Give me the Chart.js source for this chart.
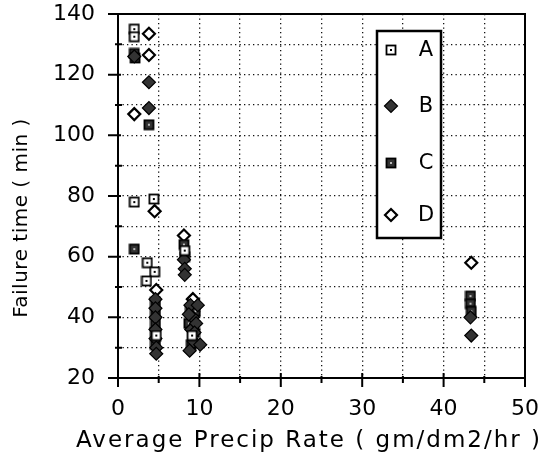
<!DOCTYPE html>
<html>
<head>
<meta charset="utf-8">
<script src="https://cdn.jsdelivr.net/npm/chart.js@4/dist/chart.umd.min.js"></script>
<style>
  html,body{margin:0;padding:0;background:#fff;}
  #wrap{width:545px;height:464px;}
</style>
</head>
<body>
<div id="wrap"><canvas id="myChart" width="545" height="464"></canvas></div>
<script>
// values
const seriesNames=["A","B","C","D"];
const xTitle="Average Precip Rate ( gm/dm2/hr )";
const yTitle="Failure time ( min )";

const aX=[2.0,2.0,2.0,4.4,3.6,4.5,3.5,4.7,8.2,9.1];
const aY=[135,132.5,78,79,58,55,52,34,62,34];

const bX=[2.0,3.8,3.8,4.6,4.6,4.6,4.6,4.6,4.7,4.7,8.1,8.2,8.2,8.9,9.2,9.0,9.3,8.8,9.6,9.8,10.1,8.7,9.4,43.3,43.4];
const bY=[126,117.5,109,46,43,40,36,33,30,28,59,56,54,44,40,36,32,29,38,44,31,41,35,40,34];

const cX=[2.0,2.1,3.8,2.0,4.6,4.6,4.6,4.6,4.6,8.1,8.2,8.9,9.1,9.4,9.0,8.7,9.5,43.3,43.3,43.4];
const cY=[127,125.5,103.5,62.5,45,41,38,35,31,64,60,42,39,35,31,38,42,47,44.5,42];

const dX=[3.8,3.8,2.0,4.5,4.7,8.1,9.2,43.4];
const dY=[133.5,126.5,107,75,49,67,46,58];

const xTicks=[0,10,20,30,40,50];
const yTicks=[20,40,60,80,100,120,140];

const toPoints=(xs,ys)=>xs.map((x,i)=>({x:x,y:ys[i]}));

// square marker with a dot in the middle
const makeSquare=(fill,dot)=>{
    const c=document.createElement("canvas");
    c.width=12;c.height=12;
    const g=c.getContext("2d");
    g.fillStyle=fill;
    g.fillRect(1,1,10,10);
    g.strokeStyle="#000";
    g.lineWidth=1.8;
    g.strokeRect(1.5,1.5,9,9);
    g.fillStyle=dot;
    g.fillRect(5,5,2,2);
    return c;
};

const datasets=[
    {label:seriesNames[0],data:toPoints(aX,aY),pointStyle:makeSquare("#fff","#000"),pointRadius:6},
    {label:seriesNames[1],data:toPoints(bX,bY),pointStyle:"rectRot",pointRadius:6.5,backgroundColor:"#333",borderColor:"#000",borderWidth:1.2},
    {label:seriesNames[2],data:toPoints(cX,cY),pointStyle:makeSquare("#333","#bbb"),pointRadius:6},
    {label:seriesNames[3],data:toPoints(dX,dY),pointStyle:"rectRot",pointRadius:6,backgroundColor:"#fff",borderColor:"#000",borderWidth:2.2}
];

// box, tick marks, axis titles and the legend box
const framePlugin={
    id:"frame",
    afterDraw(chart){
        const ctx=chart.ctx;
        const a=chart.chartArea;
        const xs=chart.scales.x, ys=chart.scales.y;
        ctx.save();
        ctx.strokeStyle="#000";
        ctx.lineWidth=2;
        ctx.strokeRect(a.left,a.top,a.right-a.left,a.bottom-a.top);
        ctx.beginPath();
        for(let v=0;v<=50;v+=5){
            const px=xs.getPixelForValue(v);
            if(v%10===0){ctx.moveTo(px,a.bottom-5);ctx.lineTo(px,a.bottom+9);}
            else{ctx.moveTo(px,a.bottom-2);ctx.lineTo(px,a.bottom+5);}
        }
        for(let v=20;v<=140;v+=10){
            const py=ys.getPixelForValue(v);
            if(v%20===0){ctx.moveTo(a.left-10,py);ctx.lineTo(a.left+3,py);}
            else{ctx.moveTo(a.left-3,py);ctx.lineTo(a.left+4,py);}
        }
        ctx.stroke();

        // axis titles
        ctx.fillStyle="#000";
        ctx.textAlign="center";
        ctx.textBaseline="middle";
        ctx.font="23px 'DejaVu Sans'";
        ctx.letterSpacing="2px";
        ctx.fillText(xTitle,309,441);
        ctx.save();
        ctx.translate(22,218);
        ctx.rotate(-Math.PI/2);
        ctx.font="20px 'DejaVu Sans'";
        ctx.letterSpacing="0.5px";
        ctx.fillText(yTitle,0,0);
        ctx.restore();
        ctx.letterSpacing="0px";

        // legend
        const bx=377,by=31,bw=64,bh=207;
        ctx.fillStyle="#fff";
        ctx.fillRect(bx,by,bw,bh);
        ctx.lineWidth=2.5;
        ctx.strokeRect(bx,by,bw,bh);
        const rows=[50,106,163,215];
        ctx.font="21px 'DejaVu Sans'";
        chart.data.datasets.forEach((ds,i)=>{
            ctx.fillStyle=ds.backgroundColor||"#fff";
            ctx.strokeStyle=ds.borderColor||"#000";
            ctx.lineWidth=ds.borderWidth||1;
            Chart.helpers.drawPoint(ctx,{pointStyle:ds.pointStyle,radius:ds.pointRadius,borderWidth:ds.borderWidth||1,rotation:0},391,rows[i]);
            ctx.fillStyle="#000";
            ctx.fillText(ds.label,426,rows[i]+1);
        });
        ctx.restore();
    }
};

const gridStyle={color:"#111",lineWidth:1.3,drawTicks:false};

const ctx=document.getElementById("myChart").getContext("2d");
const myChart=new Chart(ctx,{
    type:"scatter",
    data:{datasets:datasets},
    options:{
        responsive:false,
        animation:false,
        events:[],
        layout:{padding:{left:11,right:20,top:14,bottom:6}},
        plugins:{legend:{display:false},tooltip:{enabled:false}},
        scales:{
            x:{
                type:"linear",min:0,max:50,
                grid:gridStyle,
                border:{display:false,dash:[1.3,3.2]},
                ticks:{stepSize:5,padding:18,color:"#000",font:{family:"DejaVu Sans",size:22},
                    callback:v=>xTicks.includes(v)?String(v):""},
                afterFit:s=>{s.height=80;s.paddingLeft=0;s.paddingRight=0;}
            },
            y:{
                type:"linear",min:20,max:140,
                grid:gridStyle,
                border:{display:false,dash:[1.3,3.2]},
                ticks:{stepSize:10,padding:23,color:"#000",font:{family:"DejaVu Sans",size:22},
                    callback:v=>yTicks.includes(v)?String(v):""},
                afterFit:s=>{s.width=107;s.paddingTop=0;s.paddingBottom=0;}
            }
        }
    },
    plugins:[framePlugin]
});
</script>
</body>
</html>
